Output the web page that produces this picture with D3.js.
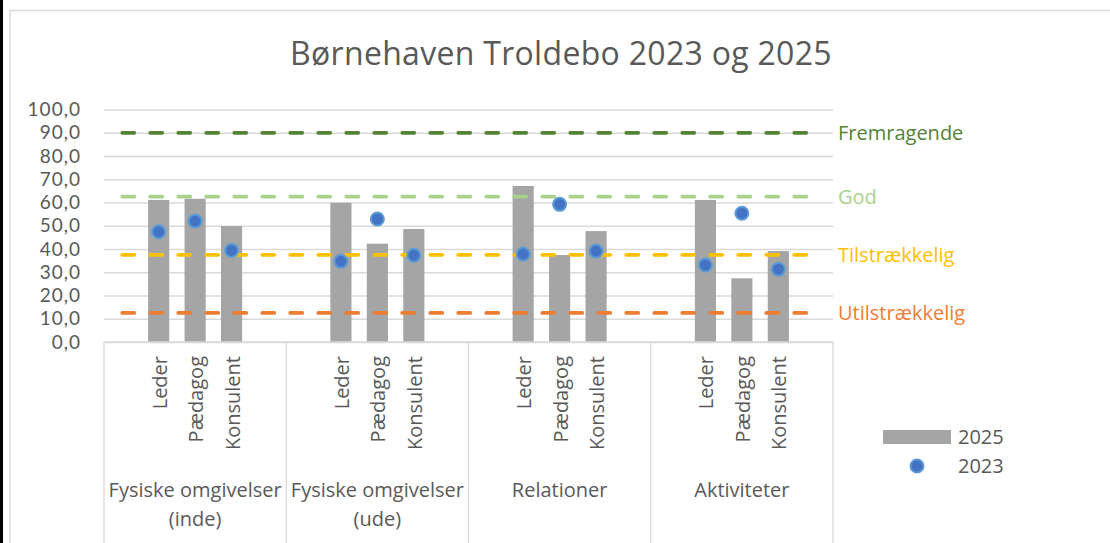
<!DOCTYPE html>
<html>
<head>
<meta charset="utf-8">
<script src="https://cdn.jsdelivr.net/npm/d3@7"></script>
<style>
  body { margin: 0; background: #fff; }
  text { font-family: "Open Sans", sans-serif; fill: #595959; }
</style>
</head>
<body>
<script>
// data
const groups = [["Fysiske omgivelser", "(inde)"], ["Fysiske omgivelser", "(ude)"], ["Relationer"], ["Aktiviteter"]];
const roles = ["Leder", "Pædagog", "Konsulent"];
const values2025 = [61.1, 61.6, 49.9, 59.9, 42.3, 48.6, 67.1, 37.4, 47.7, 61.1, 27.4, 39.1];
const values2023 = [47.4, 52.0, 39.4, 34.7, 52.9, 37.3, 37.8, 59.2, 39.1, 33.1, 55.4, 31.3];
const levelNames = ["Fremragende", "God", "Tilstrækkelig", "Utilstrækkelig"];
const levelValues = [90, 62.5, 37.5, 12.5];
const yTicks = [0, 10, 20, 30, 40, 50, 60, 70, 80, 90, 100];
const seriesNames = ["2025", "2023"];

const levelColors = ["#548235", "#A9D18E", "#FFC000", "#ED7D31"];

const width = 1110;
const height = 543;
const plot = {left: 104, right: 833, top: 109.5, bottom: 342};

let svg = d3.select('body')
    .append('svg')
    .attr('width', width)
    .attr('height', height);

// each group has an empty slot before and after the three roles
let slots = [];
let items = [];
groups.forEach(function(g, gi) {
    slots.push('g' + gi + '_a');
    roles.forEach(function(r, ri) {
        const key = 'g' + gi + '_' + r;
        slots.push(key);
        items.push({key: key, role: r, group: gi, v25: values2025[gi * 3 + ri], v23: values2023[gi * 3 + ri]});
    });
    slots.push('g' + gi + '_b');
});

const x = d3.scaleBand()
    .domain(slots)
    .range([plot.left, plot.right])
    .paddingInner(0)
    .paddingOuter(0);

const xGroup = d3.scaleBand()
    .domain(d3.range(groups.length))
    .range([plot.left, plot.right]);

const y = d3.scaleLinear()
    .domain([0, 100])
    .range([plot.bottom, plot.top]);

const fmt = d3.formatLocale({decimal: ",", thousands: ".", grouping: [3], currency: ["", " kr"]}).format(".1f");

// frame
svg.append('rect')
    .attr('x', 0).attr('y', 0)
    .attr('width', 3).attr('height', height)
    .style('fill', '#000');
svg.append('path')
    .attr('d', `M10,${height} V10.5 H${width}`)
    .style('fill', 'none')
    .style('stroke', '#D9D9D9')
    .style('stroke-width', 1.5);

// title
svg.append('text')
    .attr('x', 561)
    .attr('y', 65)
    .attr('text-anchor', 'middle')
    .style('font-size', '32px')
    .style('letter-spacing', '0.3px')
    .text('Børnehaven Troldebo 2023 og 2025');

// gridlines and y labels
let yAxis = svg.append('g')
    .attr('transform', `translate(${plot.left},0)`)
    .call(d3.axisLeft(y).tickValues(yTicks).tickFormat(fmt).tickSize(-(plot.right - plot.left)).tickPadding(23));
yAxis.select('.domain').remove();
yAxis.selectAll('.tick line')
    .style('stroke', '#D9D9D9')
    .style('stroke-width', 1.3);
yAxis.selectAll('.tick text')
    .style('font-size', '19px')
    .style('letter-spacing', '1px')
    .style('font-family', 'Lato, sans-serif')
    .style('fill', '#595959');

// group separators below the axis
svg.append('g')
    .selectAll('line')
    .data(d3.range(groups.length + 1))
    .join('line')
    .attr('x1', (d) => d < groups.length ? xGroup(d) : plot.right)
    .attr('x2', (d) => d < groups.length ? xGroup(d) : plot.right)
    .attr('y1', plot.bottom)
    .attr('y2', height)
    .style('stroke', '#D9D9D9')
    .style('stroke-width', 1.3);

// bars 2025
const barW = x.bandwidth() * 0.58;
svg.append('g')
    .selectAll('rect')
    .data(items)
    .join('rect')
    .attr('x', (d) => x(d.key) + (x.bandwidth() - barW) / 2)
    .attr('y', (d) => y(d.v25))
    .attr('width', barW)
    .attr('height', (d) => y(0) - y(d.v25))
    .style('fill', '#A5A5A5');

// level lines
const line = d3.line()
    .x((d) => d[0])
    .y((d) => d[1]);
const x0 = x(slots[0]) + x.bandwidth() / 2;
const x1 = x(slots[slots.length - 1]) + x.bandwidth() / 2;
svg.append('g')
    .selectAll('path')
    .data(levelValues)
    .join('path')
    .attr('d', (d) => line([[x0, y(d)], [x1, y(d)]]))
    .style('fill', 'none')
    .style('stroke', (d, i) => levelColors[i])
    .style('stroke-width', 3.75)
    .style('stroke-linecap', 'round')
    .style('stroke-dasharray', '12,16');

svg.append('g')
    .selectAll('text')
    .data(levelValues)
    .join('text')
    .attr('x', plot.right + 5)
    .attr('y', (d) => y(d))
    .attr('dy', '0.35em')
    .style('font-size', '20px')
    .style('fill', (d, i) => levelColors[i])
    .text((d, i) => levelNames[i]);

// dots 2023
svg.append('g')
    .selectAll('circle')
    .data(items)
    .join('circle')
    .attr('cx', (d) => x(d.key) + x.bandwidth() / 2)
    .attr('cy', (d) => y(d.v23))
    .attr('r', 6.5)
    .style('fill', '#4472C4')
    .style('stroke', '#5B9BD5')
    .style('stroke-width', 2);

// axis line
svg.append('line')
    .attr('x1', plot.left).attr('x2', plot.right)
    .attr('y1', plot.bottom).attr('y2', plot.bottom)
    .style('stroke', '#D9D9D9')
    .style('stroke-width', 1.3);

// role labels
svg.append('g')
    .selectAll('text')
    .data(items)
    .join('text')
    .attr('transform', (d) => `translate(${x(d.key) + x.bandwidth() / 2 + 1},356) rotate(-90)`)
    .attr('text-anchor', 'end')
    .attr('dy', '0.35em')
    .style('font-size', '20px')
    .text((d) => d.role);

// group labels
let gl = svg.append('g')
    .selectAll('text')
    .data(groups)
    .join('text')
    .attr('text-anchor', 'middle')
    .style('font-size', '20px');
gl.selectAll('tspan')
    .data((d, i) => d.map((s) => ({s: s, i: i})))
    .join('tspan')
    .attr('x', (d) => xGroup(d.i) + xGroup.bandwidth() / 2)
    .attr('y', (d, j) => 497 + j * 29)
    .text((d) => d.s);

// legend
let legend = svg.append('g');
legend.append('rect')
    .attr('x', 883).attr('y', 430)
    .attr('width', 68).attr('height', 14)
    .style('fill', '#A5A5A5');
legend.append('circle')
    .attr('cx', 917).attr('cy', 466)
    .attr('r', 6.5)
    .style('fill', '#4472C4')
    .style('stroke', '#5B9BD5')
    .style('stroke-width', 2);
legend.selectAll('text')
    .data(seriesNames)
    .join('text')
    .attr('x', 958)
    .attr('y', (d, i) => 437 + i * 29)
    .attr('dy', '0.35em')
    .style('font-size', '20px')
    .text((d) => d);
</script>
</body>
</html>
